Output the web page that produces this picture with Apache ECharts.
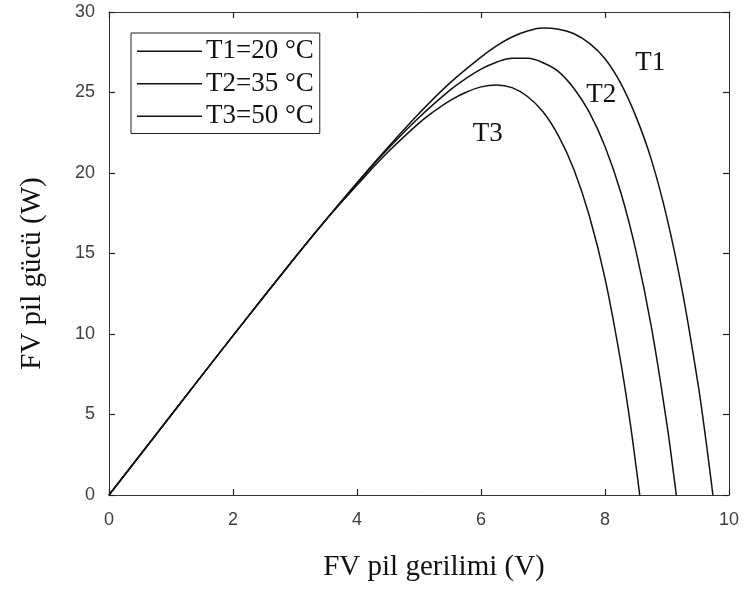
<!DOCTYPE html>
<html><head><meta charset="utf-8">
<script src="https://cdn.jsdelivr.net/npm/echarts@6/dist/echarts.min.js"></script>
<style>html,body{margin:0;padding:0;background:#fff}#c{width:744px;height:592px}</style>
</head><body><div id="c"></div>
<script>
var seriesNames = ['T1=20 °C', 'T2=35 °C', 'T3=50 °C'];
var v1 = [0, 1, 2, 3, 3.5, 4, 4.5, 5, 5.5, 6, 6.25, 6.5, 6.75, 7, 7.25, 7.5, 7.75, 8, 8.25, 8.5, 8.75, 9, 9.25, 9.5, 9.6, 9.7, 9.74];
var p1 = [0, 4.95, 9.9, 14.75, 17.1, 19.4, 21.6, 23.7, 25.6, 27.2, 27.9, 28.45, 28.82, 29.0, 28.93, 28.65, 28.05, 27.1, 25.6, 23.5, 20.8, 17.2, 12.6, 6.9, 4.2, 1.25, 0];
var v2 = [0, 1, 2, 3, 3.5, 4, 4.5, 5, 5.5, 5.75, 6, 6.25, 6.5, 6.75, 7, 7.25, 7.5, 7.75, 8, 8.25, 8.5, 8.75, 9, 9.1, 9.15];
var p2 = [0, 4.95, 9.9, 14.75, 17.1, 19.35, 21.5, 23.45, 25.15, 25.85, 26.45, 26.88, 27.13, 27.12, 26.85, 26.3, 25.25, 23.75, 21.65, 18.85, 15.15, 10.4, 4.35, 1.5, 0];
var v3 = [0, 1, 2, 3, 3.5, 4, 4.5, 5, 5.25, 5.5, 5.75, 6, 6.25, 6.5, 6.75, 7, 7.25, 7.5, 7.75, 8, 8.25, 8.4, 8.5, 8.56];
var p3 = [0, 4.95, 9.9, 14.75, 17.1, 19.25, 21.3, 23.1, 23.85, 24.5, 25.0, 25.35, 25.47, 25.3, 24.75, 23.8, 22.3, 20.2, 17.3, 13.45, 8.35, 4.65, 1.8, 0];
var curveLabels = ['T1', 'T2', 'T3'];
var labelPos = [[8.73, 26.85], [7.94, 24.85], [6.11, 22.4]];
var xTicks = [0, 2, 4, 6, 8, 10];
var yTicks = [0, 5, 10, 15, 20, 25, 30];

function pairs(v, p) { return v.map(function (x, i) { return [x, p[i]]; }); }
var volts = [v1, v2, v3], pows = [p1, p2, p3];
var axisCol = '#333';
var labelCol = '#404040';
var serif = '"Liberation Serif","Times New Roman",serif';
var sans = '"Liberation Sans",Arial,sans-serif';

var series = seriesNames.map(function (n, i) {
  return {
    name: n, type: 'line', data: pairs(volts[i], pows[i]), smooth: 0.4,
    symbol: 'none', lineStyle: { color: '#111', width: 1.5 }, itemStyle: { color: '#111' },
    xAxisIndex: 0, yAxisIndex: 0,
    markPoint: {
      symbol: 'circle', symbolSize: 0, silent: true,
      data: [{ coord: labelPos[i], value: curveLabels[i] }],
      label: { show: true, position: 'inside', formatter: curveLabels[i], color: '#111', fontFamily: serif, fontSize: 27 }
    }
  };
});

function axisCommon(extra) {
  var o = {
    axisLine: { show: true, onZero: false, lineStyle: { color: axisCol, width: 1 } },
    axisTick: { show: true, inside: true, length: 6, lineStyle: { color: '#222', width: 1.2 } },
    splitLine: { show: false }
  };
  for (var k in extra) o[k] = extra[k];
  return o;
}
var option = {
  animation: false,
  backgroundColor: '#fff',
  grid: { left: 109, right: 15, top: 12, bottom: 97, containLabel: false },
  legend: {
    orient: 'vertical', left: 131, top: 33, icon: 'rect', itemWidth: 65, itemHeight: 1.6, itemGap: 0,
    padding: [2, 6, 1, 6], borderColor: '#222', borderWidth: 1, backgroundColor: '#fff',
    textStyle: { fontFamily: serif, fontSize: 27, lineHeight: 32.5, color: '#111', padding: [0, 0, 0, -1] },
    data: seriesNames
  },
  xAxis: [
    axisCommon({
      type: 'value', min: 0, max: 10, interval: 2, position: 'bottom',
      name: 'FV pil gerilimi (V)', nameLocation: 'middle', nameGap: 58,
      nameTextStyle: { fontFamily: serif, fontSize: 29, color: '#111', padding: [0, 0, 0, 30] },
      axisLabel: { fontFamily: sans, fontSize: 18, color: labelCol, margin: 16 }
    }),
    axisCommon({ type: 'value', min: 0, max: 10, interval: 2, position: 'top', axisLabel: { show: false } })
  ],
  yAxis: [
    axisCommon({
      type: 'value', min: 0, max: 30, interval: 5, position: 'left',
      name: 'FV pil gücü (W)', nameLocation: 'middle', nameGap: 62,
      nameTextStyle: { fontFamily: serif, fontSize: 29, color: '#111', padding: [0, 40, 0, 0] },
      axisLabel: { fontFamily: sans, fontSize: 18, color: labelCol, margin: 14 }
    }),
    axisCommon({ type: 'value', min: 0, max: 30, interval: 5, position: 'right', axisLabel: { show: false } })
  ],
  series: series
};
var chart = echarts.init(document.getElementById('c'), null, { renderer: 'canvas' });
chart.setOption(option);
</script></body></html>
